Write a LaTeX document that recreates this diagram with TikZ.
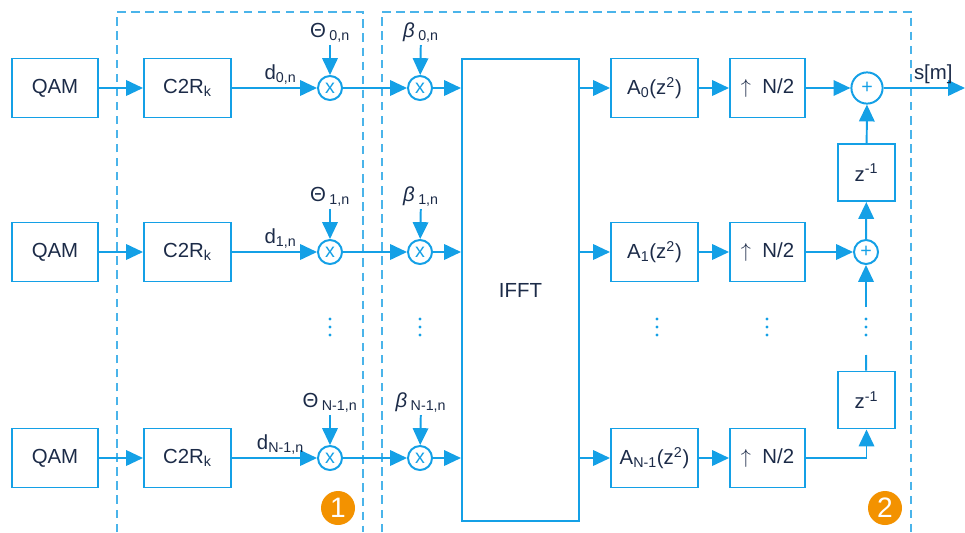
\documentclass[tikz,border=0pt]{standalone}
\usepackage{fontspec}
\setmainfont{Liberation Sans}
\usetikzlibrary{arrows.meta, positioning}
\definecolor{cblue}{HTML}{14A0E6}
\definecolor{cdash}{HTML}{4AB4EA}
\definecolor{cnavy}{HTML}{1C2B48}
\definecolor{corange}{HTML}{F39200}
\tikzset{
  every picture/.style={font=\fontsize{14.5}{17}\selectfont, line width=1.4pt},
  blk/.style={draw=cblue, text=cnavy, minimum width=#1, minimum height=1.475cm, inner sep=2pt},
  blk/.default=2.15cm,
  mult/.style={circle, draw=cblue, text=cblue, minimum size=#1, inner sep=0pt, font=\fontsize{14}{14}\selectfont},
  mult/.default=0.6cm,
  arrow/.style={-{Triangle[length=12pt, width=11pt]}, draw=cblue},
  link/.style={draw=cblue},
  group/.style={draw=cdash, line width=0.9pt, dash pattern=on 6pt off 4pt},
  coef/.style={text=cnavy, inner sep=1pt},
  badge/.style={circle, fill=corange, text=white, minimum size=0.85cm, inner sep=0pt, font=\fontsize{20}{20}\selectfont},
}

\begin{document}
\begin{tikzpicture}[x=0.025cm, y=-0.025cm]
  \useasboundingbox (0,0) rectangle (965,532);
  % the two dashed stages
  \draw[group] (117,532) -- (117,12) -- (363,12) -- (363,532);
  \draw[group] (382,532) -- (382,12) -- (911,12) -- (911,532);
  % IFFT
  \node[blk=2.925cm, minimum height=11.55cm] (ifft) at (520.5,290) {IFFT};
  % branches 0, 1, N-1
  \foreach \r/\y/\s in {0/88/0, 1/252/1, 2/458/N-1} {
    \node[blk] (qam\r) at (55,\y) {QAM};
    \node[blk=2.175cm] (c2r\r) at (187.5,\y) {C2R\textsubscript{k}};
    \node[mult] (mt\r) at (330,\y) {x};
    \node[mult] (mb\r) at (420,\y) {x};
    \node[coef] (th\r) at (330,\y-55) {Θ\,\textsubscript{\s,n}};
    \node[coef] (bt\r) at (421,\y-55) {{\itshape β}\,\textsubscript{\s,n}};
    \draw[arrow] (qam\r) -- (c2r\r);
    \draw[arrow] (c2r\r) -- node[coef, pos=0.57, above=1pt] {d\textsubscript{\s,n}} (mt\r);
    \draw[arrow] (th\r) -- (mt\r);
    \draw[arrow] (mt\r) -- (mb\r);
    \draw[arrow] (bt\r) -- (mb\r);
    \draw[arrow] (mb\r) -- (ifft.west |- mb\r);
    \node[blk=2.175cm] (a\r) at (654.5,\y) {A\textsubscript{\s}(z\textsuperscript{2})};
    \node[blk=1.875cm] (up\r) at (767.5,\y) {$\uparrow$\ \ N/2};
    \draw[arrow] (ifft.east |- a\r) -- (a\r);
    \draw[arrow] (a\r) -- (up\r);
  }
  % summation chain
  \node[mult=0.78cm] (add0) at (867,88) {+};
  \node[mult] (add1) at (866,252) {+};
  \node[blk=1.425cm, minimum height=1.425cm] (z0) at (866.5,172.5) {z\textsuperscript{-1}};
  \node[blk=1.425cm, minimum height=1.425cm] (z2) at (866.5,400) {z\textsuperscript{-1}};
  \coordinate (out) at (965,88);
  \coordinate (dup) at (866,307);
  \coordinate (ddown) at (866,355);
  \draw[arrow] (up0) -- (add0);
  \draw[arrow] (add0) -- node[coef, pos=0.61, above=1pt] {s[m]} (out);
  \draw[arrow] (z0) -- (add0);
  \draw[arrow] (add1) -- (z0);
  \draw[arrow] (up1) -- (add1);
  \draw[arrow] (dup) -- (add1);
  \draw[link] (z2) -- (ddown);
  \draw[arrow] (up2) -| (z2);
  % dots between branches
  \foreach \x in {330,420,657,767,866}
    \foreach \d in {0,8,16} \fill[cblue] (\x,319+\d) circle (1.1pt);
  % stage markers
  \node[badge] (one) at (338,508) {1};
  \node[badge] (two) at (885,508) {2};
\end{tikzpicture}
\end{document}
